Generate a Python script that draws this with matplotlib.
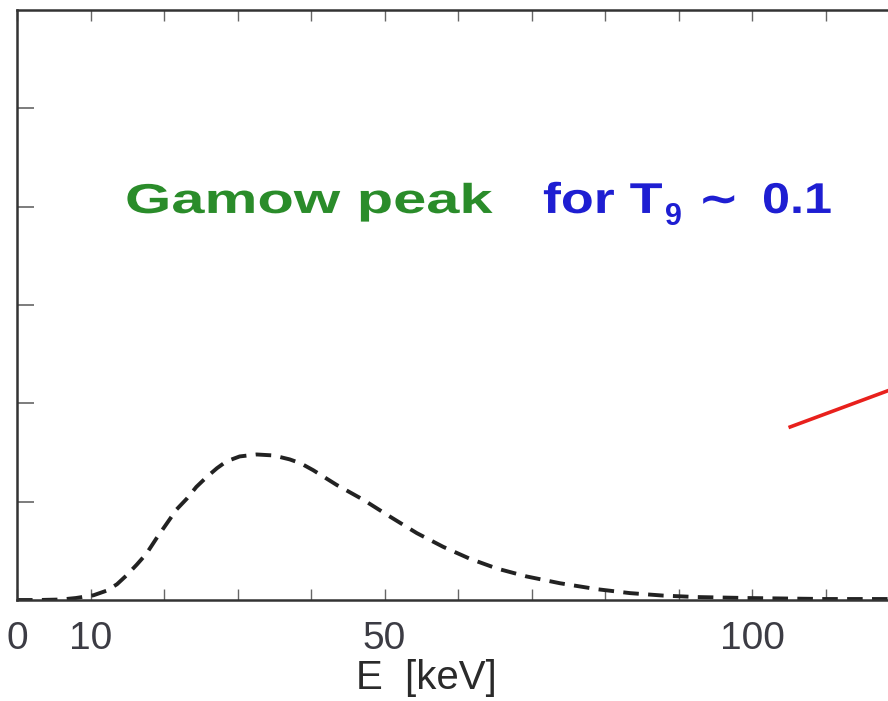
import matplotlib
matplotlib.use("Agg")
import matplotlib.pyplot as plt
from matplotlib.patheffects import AbstractPathEffect
from matplotlib.transforms import Affine2D

# Gamow peak curve (dashed), E in keV, arbitrary units
gamow_E = [0, 3, 6, 8, 10.4, 12.2, 13.6, 14.9, 16.3, 17.6, 19.0, 20.4, 21.7, 23.1,
           24.4, 25.8, 27.2, 28.5, 30.3, 32.6, 34.9, 37.1, 38.6, 40.3, 43.5, 47.1,
           50.7, 54.4, 58.0, 61.6, 65.3, 69.3, 73.9, 78.9, 83.4, 87.9, 92.5, 99.3,
           110, 120]
gamow_y = [0.0, 0.0, 0.005, 0.02, 0.048, 0.095, 0.16, 0.25, 0.36, 0.47, 0.63, 0.78, 0.92, 1.03,
           1.15, 1.25, 1.34, 1.41, 1.46, 1.48, 1.47, 1.43, 1.39, 1.32, 1.17, 1.02,
           0.85, 0.68, 0.54, 0.42, 0.32, 0.24, 0.17, 0.11, 0.07, 0.045, 0.03, 0.02,
           0.01, 0.01]

# red line entering from the right
red_E = [105.2, 120]
red_y = [1.76, 2.17]

xticks = [0, 10, 20, 30, 40, 50, 60, 70, 80, 90, 100, 110]
xlabels = ["0", "10", "", "", "", "50", "", "", "", "", "100", ""]
yticks = [1, 2, 3, 4, 5]


class Stretch(AbstractPathEffect):
    # widen / narrow glyphs horizontally about the text origin
    def __init__(self, sx):
        super().__init__()
        self.sx = sx

    def draw_path(self, renderer, gc, tpath, affine, rgbFace=None):
        renderer.draw_path(gc, tpath, Affine2D().scale(self.sx, 1) + affine, rgbFace)


plt.rcParams['font.family'] = ['Liberation Sans', 'DejaVu Sans']

fig = plt.figure(figsize=(8.88, 7.01), dpi=100)
ax = fig.add_axes([17/888, 101/701, 882/888, 590/701])

ax.plot(gamow_E, gamow_y, color="#222222", lw=2.8, dashes=(4, 2.4))
ax.plot(red_E, red_y, color="#e8201c", lw=2.6)

ax.set_xlim(0, 120)
ax.set_ylim(0, 6)
ax.set_xticks(xticks)
ax.set_xticklabels(xlabels)
ax.set_yticks(yticks)
ax.set_yticklabels([])
ax.tick_params(axis="x", direction="in", length=8, width=1, color="#666666",
               labelsize=28, labelcolor="#3c3c44", pad=15, top=True)
ax.tick_params(axis="y", direction="in", length=12, width=1.2, color="#666666")
for s in ax.spines.values():
    s.set_color("#333333")
    s.set_linewidth(1.8)

ax.set_xlabel("E  [keV]", fontsize=29, color="#2a2a2a")
ax.xaxis.set_label_coords(0.4637, -0.1)

green = "#2a8c2a"
blue = "#1e1ed2"
ax.text(14.69, 3.936, "Gamow peak", color=green, fontsize=30, fontweight="bold",
        va="baseline", ha="left", path_effects=[Stretch(1.43)])
ax.text(71.56, 3.936, "for T", color=blue, fontsize=31, fontweight="bold",
        va="baseline", ha="left", path_effects=[Stretch(1.25)])
ax.text(88.16, 3.814, "9", color=blue, fontsize=22, fontweight="bold",
        va="baseline", ha="left")
ax.text(92.65, 3.936, "\u223c", color=blue, fontsize=31, fontweight="bold",
        family=['DejaVu Sans'], va="baseline", ha="left", path_effects=[Stretch(1.15)])
ax.text(101.36, 3.936, "0.1", color=blue, fontsize=31, fontweight="bold",
        va="baseline", ha="left", path_effects=[Stretch(1.17)])

fig.savefig("out.png", dpi=100)
